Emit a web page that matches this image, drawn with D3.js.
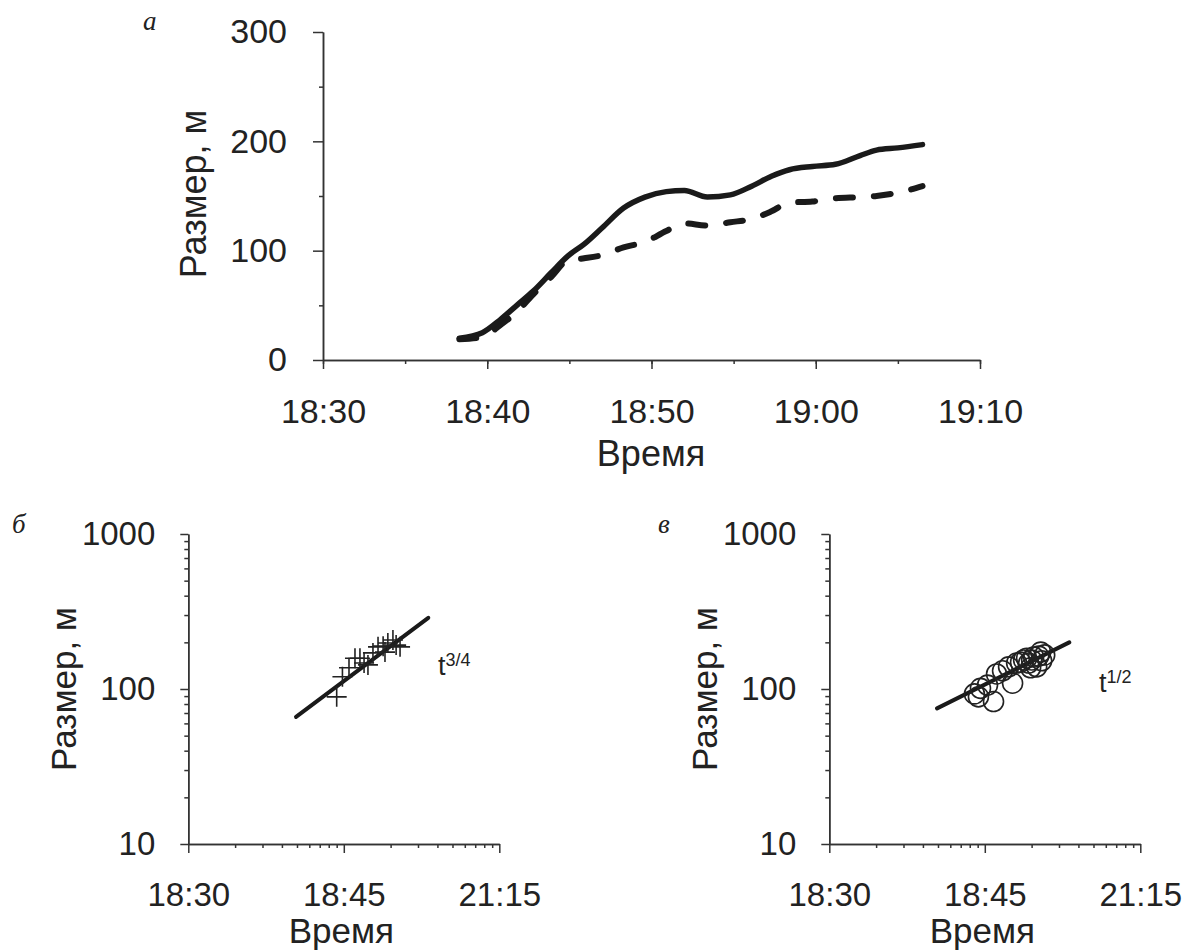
<!DOCTYPE html>
<html>
<head>
<meta charset="utf-8">
<script src="https://cdn.jsdelivr.net/npm/d3@7"></script>
<style>
  body { margin: 0; background: #fff; }
  svg { display: block; }
</style>
</head>
<body>
<svg id="chart" width="1184" height="950"></svg>
<script>
// Panel а: cloud size versus clock time, two estimates
const sizeTimes = ["18:38:18","18:39:42","18:40:48","18:41:48","18:42:48","18:43:54","18:44:54",
  "18:45:54","18:47:00","18:48:18","18:49:36","18:50:54","18:52:00","18:53:24","18:54:48",
  "18:56:06","18:57:18","18:58:24","18:59:48","19:01:12","19:02:42","19:03:42","19:05:00","19:06:30"];
const sizeSolid  = [20,25,37,50,63,80,95,106,121,139,149,154,155,149,151,159,168,174,177,179,187,192,194,197];
const sizeDashed = [19,21,32,44,60,76,91,93,96,103,108,118,125,123,126,129,136,144,145,148,149,150,153,159];
const timeTicks = ["18:30","18:40","18:50","19:00","19:10"];
const sizeTicks = [0,100,200,300];

// Panels б and в: log-log, x = seconds elapsed since 18:28:20
const crossPoints = [[900,89],[980,120],[1080,137],[1180,158],[1270,158],[1350,147],[1430,143],
  [1540,171],[1660,187],[1790,189],[1840,173],[1920,198],[2070,207],[2170,192],[2300,187]];
const circlePoints = [[858,93],[910,89],[938,101],[1041,106],[1138,83],[1190,125],[1301,131],
  [1422,139],[1509,109],[1602,147],[1699,149],[1777,154],[1858,158],[1914,147],[1971,137],
  [2001,154],[2062,161],[2156,139],[2221,163],[2288,173],[2322,152],[2428,166]];
const fitSteep  = [[493,66],[3494,288]];
const fitGentle = [[493,75],[3494,200]];
const logTimeTicks  = [100,1000,10000];
const logTimeLabels = ["18:30","18:45","21:15"];
const logSizeTicks  = [10,100,1000];

const SANS = "'Liberation Sans', Arial, sans-serif";
const SERIF = "'Liberation Serif', 'Times New Roman', serif";
const INK = "#222";
const AXIS = "#333";

const svg = d3.select("#chart");

function styleAxis(g, fontSize) {
  g.attr("color", AXIS).attr("font-family", SANS).attr("font-size", fontSize);
  g.selectAll(".domain").attr("stroke-width", 1.5);
  g.selectAll(".tick line").attr("stroke-width", 1.5);
  g.selectAll(".tick text").attr("fill", INK);
}

// ---------- Panel а ----------
{
  const parse = d3.timeParse("%H:%M:%S");
  const parseHM = d3.timeParse("%H:%M");
  const x = d3.scaleTime().domain([parseHM(timeTicks[0]), parseHM(timeTicks[timeTicks.length - 1])]).range([323, 980]);
  const y = d3.scaleLinear().domain([0, 300]).range([360, 32]);
  const g = svg.append("g");

  // minor ticks every 5 minutes / 50 m
  g.append("g").attr("transform", "translate(0,360)")
    .call(d3.axisBottom(x).ticks(d3.timeMinute.every(5)).tickSize(4).tickSizeOuter(0).tickFormat(() => ""))
    .call(s => styleAxis(s, 34));
  g.append("g").attr("transform", "translate(323,0)")
    .call(d3.axisLeft(y).tickValues(d3.range(50, 300, 100)).tickSize(4).tickSizeOuter(0).tickFormat(() => ""))
    .call(s => styleAxis(s, 34));

  g.append("g").attr("transform", "translate(0,360)")
    .call(d3.axisBottom(x).tickValues(timeTicks.map(parseHM)).tickSize(9).tickPadding(30)
      .tickSizeOuter(0).tickFormat(d3.timeFormat("%H:%M")))
    .call(s => styleAxis(s, 34));
  g.append("g").attr("transform", "translate(323,0)")
    .call(d3.axisLeft(y).tickValues(sizeTicks).tickSize(10).tickPadding(26).tickSizeOuter(0))
    .call(s => styleAxis(s, 34));

  const rows = sizeTimes.map((t, i) => ({ t: parse(t), a: sizeSolid[i], b: sizeDashed[i] }));
  const lineA = d3.line().x(d => x(d.t)).y(d => y(d.a)).curve(d3.curveMonotoneX);
  const lineB = d3.line().x(d => x(d.t)).y(d => y(d.b)).curve(d3.curveMonotoneX);

  g.append("path").datum(rows).attr("d", lineB)
    .attr("fill", "none").attr("stroke", "#1a1a1a").attr("stroke-width", 6)
    .attr("stroke-linecap", "round").attr("stroke-dasharray", "17 21");
  g.append("path").datum(rows).attr("d", lineA)
    .attr("fill", "none").attr("stroke", "#1a1a1a").attr("stroke-width", 5.5)
    .attr("stroke-linejoin", "round").attr("stroke-linecap", "round");

  g.append("text").attr("transform", "translate(206,194) rotate(-90)")
    .attr("text-anchor", "middle").attr("font-family", SANS).attr("font-size", 36).attr("fill", INK)
    .text("Размер, м");
  g.append("text").attr("x", 651).attr("y", 466)
    .attr("text-anchor", "middle").attr("font-family", SANS).attr("font-size", 36).attr("fill", INK)
    .text("Время");
  g.append("text").attr("x", 143).attr("y", 30)
    .attr("font-family", SERIF).attr("font-style", "italic").attr("font-size", 27).attr("fill", INK)
    .text("а");
}

// ---------- Panels б and в ----------
function logPanel(opt) {
  const x = d3.scaleLog().domain([logTimeTicks[0], logTimeTicks[2]]).range([opt.left, opt.left + 311]);
  const y = d3.scaleLog().domain([logSizeTicks[0], logSizeTicks[2]]).range([844, 534]);
  const g = svg.append("g");

  const xMinor = x.ticks().filter(v => !logTimeTicks.includes(v));
  const yMinor = y.ticks().filter(v => !logSizeTicks.includes(v));

  g.append("g").attr("transform", "translate(0,844)")
    .call(d3.axisBottom(x).tickValues(xMinor).tickSize(4).tickSizeOuter(0).tickFormat(() => ""))
    .call(s => styleAxis(s, 33));
  g.append("g").attr("transform", `translate(${opt.left},0)`)
    .call(d3.axisLeft(y).tickValues(yMinor).tickSize(4).tickSizeOuter(0).tickFormat(() => ""))
    .call(s => styleAxis(s, 33));

  g.append("g").attr("transform", "translate(0,844)")
    .call(d3.axisBottom(x).tickValues(logTimeTicks).tickSize(9).tickPadding(30).tickSizeOuter(0)
      .tickFormat((d, i) => logTimeLabels[i]))
    .call(s => styleAxis(s, 33));
  g.append("g").attr("transform", `translate(${opt.left},0)`)
    .call(d3.axisLeft(y).tickValues(logSizeTicks).tickSize(8).tickPadding(25).tickSizeOuter(0)
      .tickFormat(d3.format("d")))
    .call(s => styleAxis(s, 33));

  const fit = d3.line().x(d => x(d[0])).y(d => y(d[1]));
  g.append("path").datum(opt.fit).attr("d", fit)
    .attr("fill", "none").attr("stroke", "#1a1a1a").attr("stroke-width", 4).attr("stroke-linecap", "round");

  if (opt.marker === "cross") {
    g.selectAll("path.pt").data(opt.points).join("path").attr("class", "pt")
      .attr("transform", d => `translate(${x(d[0])},${y(d[1])})`)
      .attr("d", "M-10,0H10M0,-10V10")
      .attr("fill", "none").attr("stroke", INK).attr("stroke-width", 1.6);
  } else {
    g.selectAll("circle.pt").data(opt.points).join("circle").attr("class", "pt")
      .attr("cx", d => x(d[0])).attr("cy", d => y(d[1])).attr("r", 10)
      .attr("fill", "none").attr("stroke", INK).attr("stroke-width", 1.6);
  }

  const lab = g.append("text").attr("x", opt.expX).attr("y", opt.expY)
    .attr("font-family", SANS).attr("fill", INK).attr("font-size", 27);
  lab.append("tspan").text("t");
  lab.append("tspan").attr("font-size", 18).attr("dy", -9).text(opt.exponent);

  g.append("text").attr("transform", `translate(${opt.left - 112},689) rotate(-90)`)
    .attr("text-anchor", "middle").attr("font-family", SANS).attr("font-size", 35).attr("fill", INK)
    .text("Размер, м");
  g.append("text").attr("x", opt.left + 153).attr("y", 943)
    .attr("text-anchor", "middle").attr("font-family", SANS).attr("font-size", 35).attr("fill", INK)
    .text("Время");
  g.append("text").attr("x", opt.tagX).attr("y", 533)
    .attr("font-family", SERIF).attr("font-style", "italic").attr("font-size", 27).attr("fill", INK)
    .text(opt.tag);
}

logPanel({ left: 188.3, points: crossPoints, marker: "cross", fit: fitSteep,
  exponent: "3/4", expX: 438, expY: 675, tag: "б", tagX: 12 });
logPanel({ left: 829.3, points: circlePoints, marker: "circle", fit: fitGentle,
  exponent: "1/2", expX: 1099, expY: 692, tag: "в", tagX: 658 });
</script>
</body>
</html>
